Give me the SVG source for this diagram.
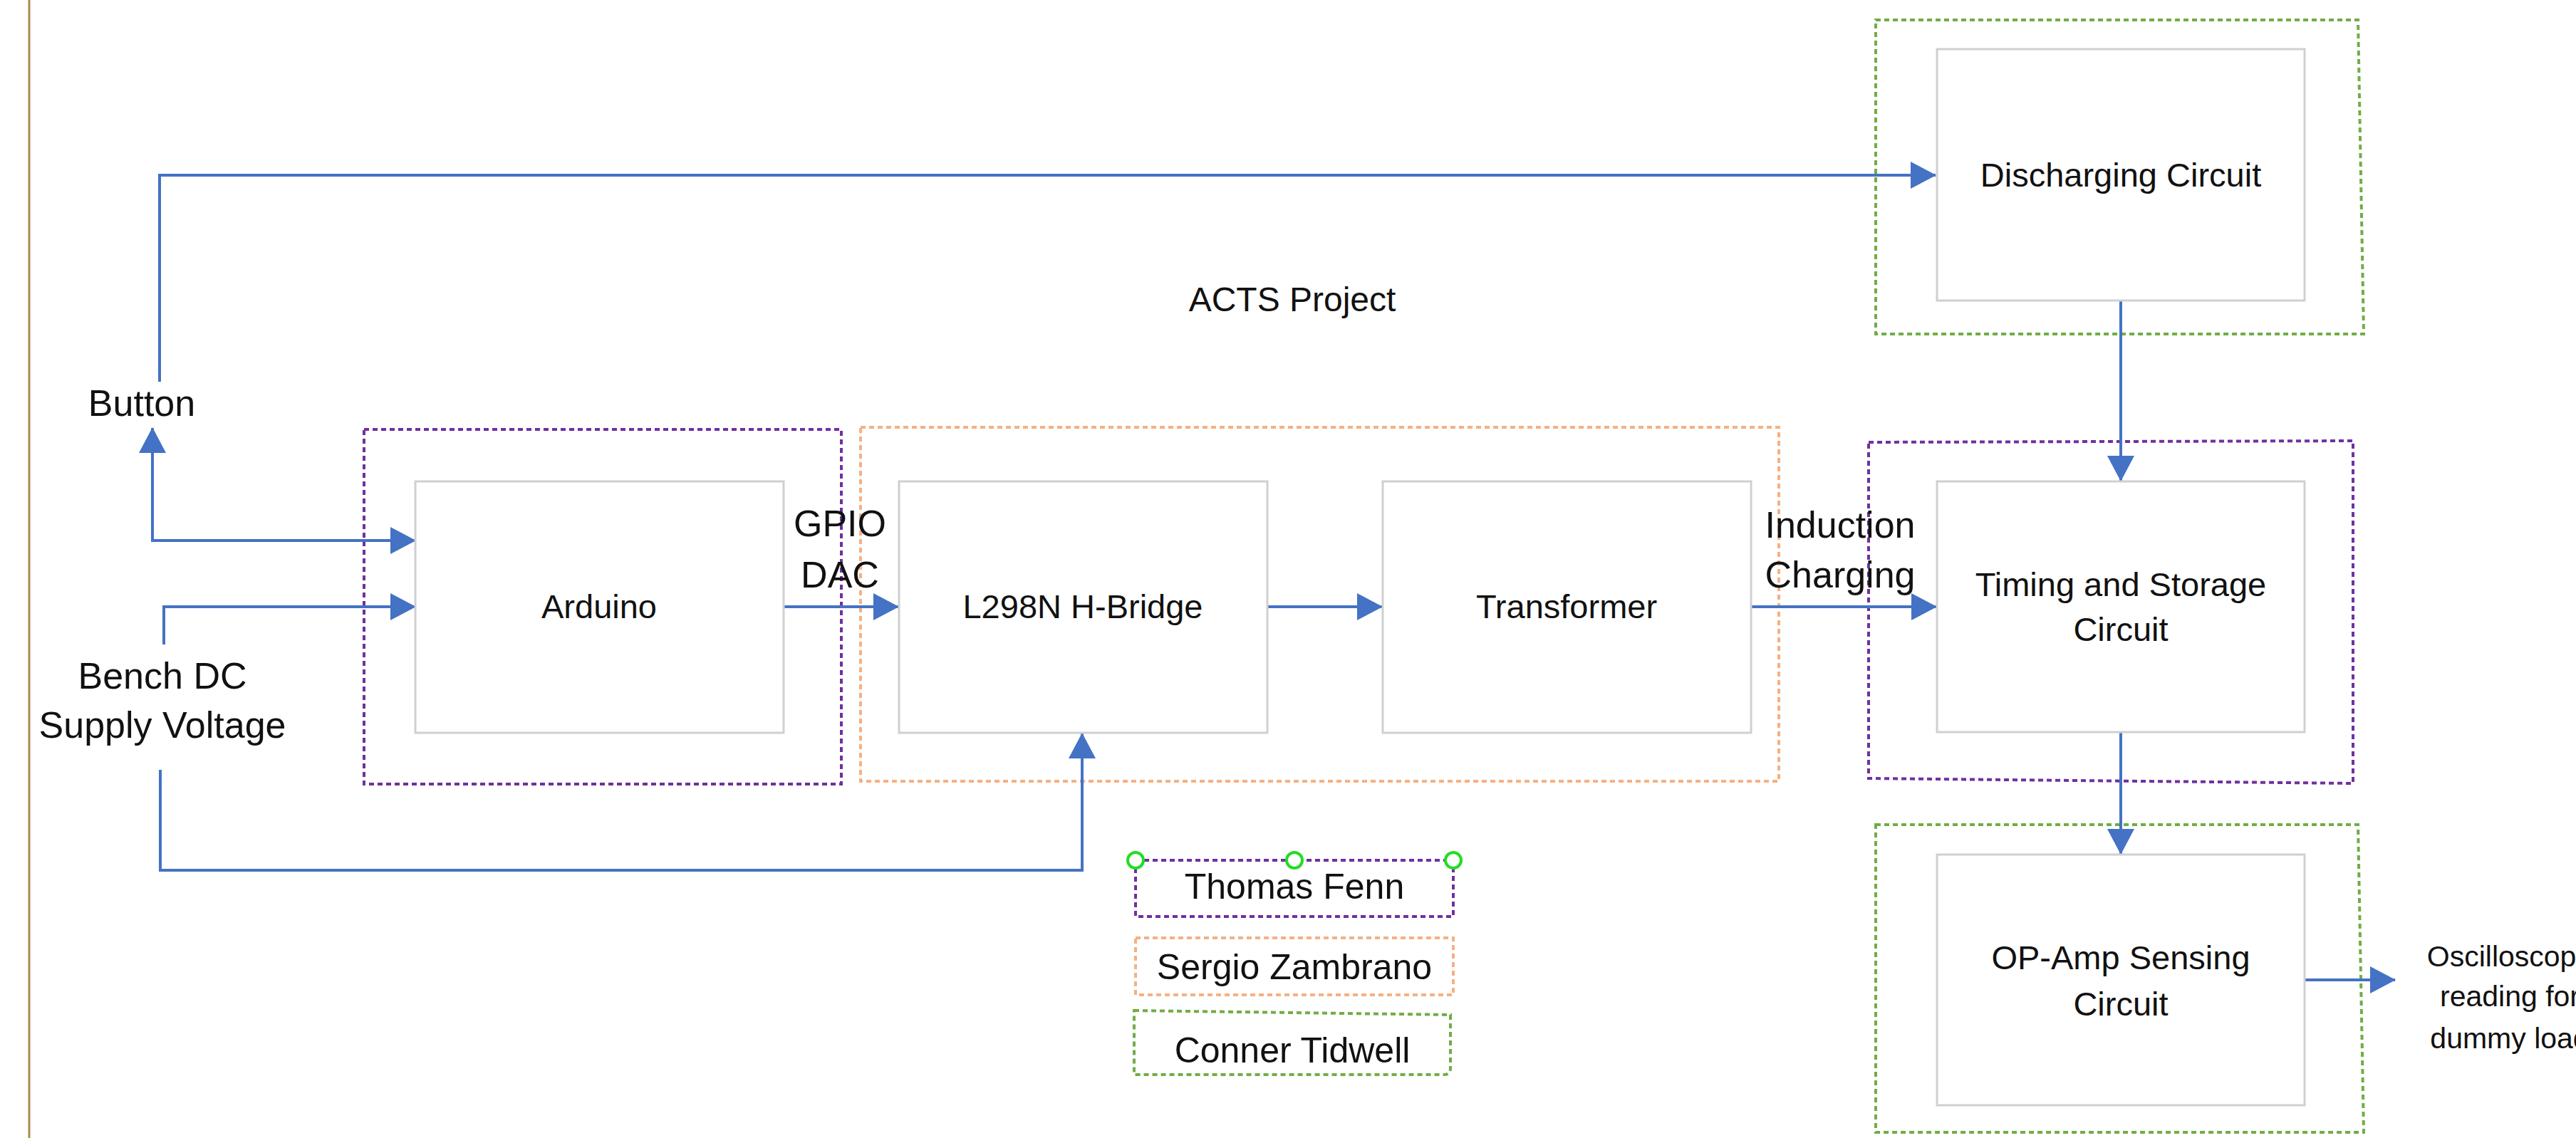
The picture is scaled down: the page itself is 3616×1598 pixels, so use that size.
<svg xmlns="http://www.w3.org/2000/svg" width="3616" height="1598" viewBox="0 0 3616 1598">
<style>
  .box { fill: #ffffff; stroke: #d0d0d0; stroke-width: 3; }
  .t { font-family: "Liberation Sans", Arial, sans-serif; fill: #111111; text-anchor: middle; }
  .bt { font-size: 47px; }
  .lb { font-size: 52px; }
  .nm { font-size: 50px; }
  .conn { fill: none; stroke: #4472c4; stroke-width: 4; }
  .grp { fill: none; stroke-width: 4; stroke-dasharray: 7 5; }
  .purple { stroke: #7030a0; }
  .orange { stroke: #f4b183; }
  .green { stroke: #70ad47; }
  .handle { fill: #ffffff; stroke: #22dd22; stroke-width: 4; }
</style>
<defs>
  <marker id="arr" markerUnits="userSpaceOnUse" markerWidth="36" markerHeight="38" refX="35" refY="19" orient="auto-start-reverse">
    <path d="M0,0 L36,19 L0,38 Z" fill="#4472c4"/>
  </marker>
</defs>
<rect x="0" y="0" width="3616" height="1598" fill="#ffffff"/>
<line x1="41" y1="0" x2="41" y2="1598" stroke="#ab8c4c" stroke-width="3"/>

<g id="group-boxes">
  <rect class="grp purple" x="511" y="603" width="670" height="498"/>
  <rect class="grp orange" x="1208" y="600" width="1289" height="497"/>
  <path class="grp green" d="M2633,28 L3310,28 L3318,469 L2633,469 Z"/>
  <path class="grp purple" d="M2623,621 L3303,619 L3303,1100 L2623,1093 Z"/>
  <path class="grp green" d="M2633,1158 L3310,1158 L3318,1590 L2633,1590 Z"/>
</g>

<g id="connectors">
  <path class="conn" d="M224,536 V246 H2717" marker-end="url(#arr)"/>
  <path class="conn" d="M214,601 V759 H583" marker-start="url(#arr)" marker-end="url(#arr)"/>
  <path class="conn" d="M230,905 V852 H583" marker-end="url(#arr)"/>
  <path class="conn" d="M225,1081 V1222 H1519 V1030" marker-end="url(#arr)"/>
  <path class="conn" d="M1100,852 H1261" marker-end="url(#arr)"/>
  <path class="conn" d="M1779,852 H1940" marker-end="url(#arr)"/>
  <path class="conn" d="M2458,852 H2718" marker-end="url(#arr)"/>
  <path class="conn" d="M2977,422 V675" marker-end="url(#arr)"/>
  <path class="conn" d="M2977,1028 V1199" marker-end="url(#arr)"/>
  <path class="conn" d="M3235,1376 H3362" marker-end="url(#arr)"/>
</g>

<g id="node-arduino">
  <rect class="box" x="583" y="676" width="517" height="353"/>
  <text class="t bt" x="841" y="868">Arduino</text>
</g>
<g id="node-hbridge">
  <rect class="box" x="1262" y="676" width="517" height="353"/>
  <text class="t bt" x="1520" y="868">L298N H-Bridge</text>
</g>
<g id="node-transformer">
  <rect class="box" x="1941" y="676" width="517" height="353"/>
  <text class="t bt" x="2199" y="868">Transformer</text>
</g>
<g id="node-discharging">
  <rect class="box" x="2719" y="69" width="516" height="353"/>
  <text class="t bt" x="2977" y="262">Discharging Circuit</text>
</g>
<g id="node-timing">
  <rect class="box" x="2719" y="676" width="516" height="352"/>
  <text class="t bt" x="2977" y="837">Timing and Storage</text>
  <text class="t bt" x="2977" y="900">Circuit</text>
</g>
<g id="node-opamp">
  <rect class="box" x="2719" y="1200" width="516" height="352"/>
  <text class="t bt" x="2977" y="1361">OP-Amp Sensing</text>
  <text class="t bt" x="2977" y="1426">Circuit</text>
</g>

<g id="label-button"><text class="t lb" x="199" y="584">Button</text></g>
<g id="label-bench">
  <text class="t lb" x="228" y="967">Bench DC</text>
  <text class="t lb" x="228" y="1036">Supply Voltage</text>
</g>
<g id="label-gpio">
  <text class="t lb" x="1179" y="753">GPIO</text>
  <text class="t lb" x="1179" y="825">DAC</text>
</g>
<g id="label-induction">
  <text class="t lb" x="2583" y="755">Induction</text>
  <text class="t lb" x="2583" y="825">Charging</text>
</g>
<g id="title"><text class="t" font-size="48" x="1814" y="437">ACTS Project</text></g>
<g id="label-output">
  <text class="t" font-size="41" x="3523" y="1357">Oscilloscope</text>
  <text class="t" font-size="41" x="3523" y="1413">reading for</text>
  <text class="t" font-size="41" x="3523" y="1472">dummy load</text>
</g>

<g id="legend-thomas">
  <rect class="grp purple" x="1594" y="1208" width="446" height="79"/>
  <text class="t nm" x="1817" y="1262">Thomas Fenn</text>
  <circle class="handle" cx="1594" cy="1208" r="11"/>
  <circle class="handle" cx="1817" cy="1208" r="11"/>
  <circle class="handle" cx="2040" cy="1208" r="11"/>
</g>
<g id="legend-sergio">
  <rect class="grp orange" x="1594" y="1317" width="446" height="80"/>
  <text class="t nm" x="1817" y="1375">Sergio Zambrano</text>
</g>
<g id="legend-conner">
  <path class="grp green" d="M1592,1419 L2036,1425 L2036,1500 Q2036,1509 2027,1509 L1592,1509 Z"/>
  <text class="t nm" x="1814" y="1492">Conner Tidwell</text>
</g>
</svg>
